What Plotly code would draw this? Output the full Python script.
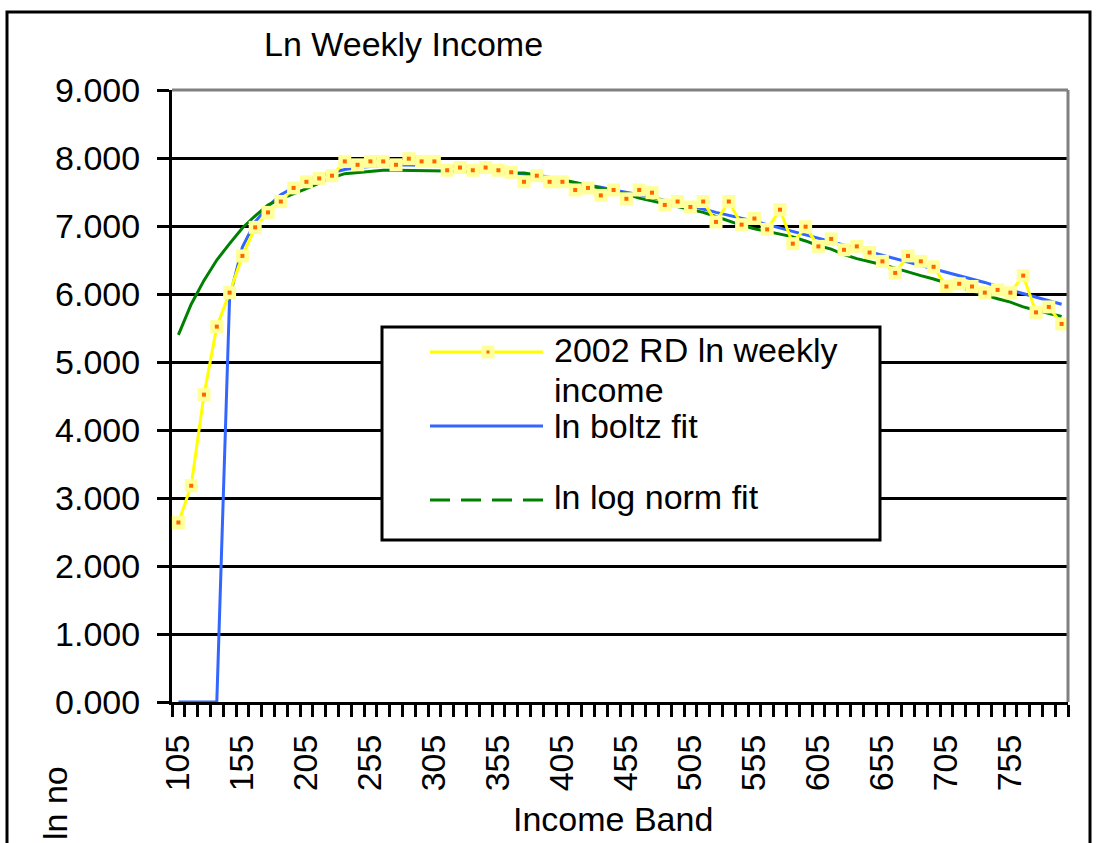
import plotly.graph_objects as go

# ---------------- data ----------------
income_band = [105, 115, 125, 135, 145, 155, 165, 175, 185, 195,
               205, 215, 225, 235, 245, 255, 265, 275, 285, 295,
               305, 315, 325, 335, 345, 355, 365, 375, 385, 395,
               405, 415, 425, 435, 445, 455, 465, 475, 485, 495,
               505, 515, 525, 535, 545, 555, 565, 575, 585, 595,
               605, 615, 625, 635, 645, 655, 665, 675, 685, 695,
               705, 715, 725, 735, 745, 755, 765, 775, 785, 795]

rd_ln_weekly = [2.64, 3.18, 4.52, 5.52, 6.02, 6.56, 6.98, 7.20, 7.36, 7.56,
                7.65, 7.70, 7.74, 7.95, 7.90, 7.95, 7.95, 7.90, 7.99, 7.95,
                7.95, 7.82, 7.86, 7.82, 7.86, 7.82, 7.79, 7.65, 7.74, 7.65,
                7.65, 7.53, 7.56, 7.45, 7.53, 7.40, 7.53, 7.49, 7.31, 7.36,
                7.28, 7.36, 7.06, 7.36, 7.02, 7.11, 6.95, 7.24, 6.74, 6.99,
                6.70, 6.81, 6.65, 6.70, 6.61, 6.48, 6.31, 6.56, 6.48, 6.40,
                6.11, 6.15, 6.11, 6.02, 6.06, 6.02, 6.27, 5.73, 5.81, 5.56]

ln_boltz_fit = [0.00, 0.00, 0.00, 0.00, 5.95, 6.69, 7.06, 7.29, 7.46, 7.57,
                7.67, 7.74, 7.79, 7.83, 7.86, 7.88, 7.89, 7.90, 7.90, 7.90,
                7.89, 7.88, 7.87, 7.85, 7.83, 7.81, 7.79, 7.76, 7.73, 7.70,
                7.67, 7.64, 7.60, 7.57, 7.53, 7.50, 7.46, 7.42, 7.38, 7.33,
                7.29, 7.25, 7.20, 7.16, 7.11, 7.07, 7.02, 6.97, 6.92, 6.88,
                6.83, 6.78, 6.73, 6.68, 6.63, 6.58, 6.53, 6.48, 6.43, 6.38,
                6.32, 6.27, 6.22, 6.17, 6.11, 6.06, 6.00, 5.95, 5.90, 5.85]

ln_lognorm_fit = [5.40, 5.85, 6.20, 6.50, 6.74, 6.97, 7.15, 7.31, 7.40, 7.47,
                  7.55, 7.63, 7.71, 7.77, 7.79, 7.81, 7.82, 7.82, 7.82, 7.82,
                  7.82, 7.81, 7.80, 7.80, 7.79, 7.79, 7.78, 7.78, 7.75, 7.72,
                  7.68, 7.64, 7.60, 7.56, 7.51, 7.47, 7.41, 7.37, 7.32, 7.28,
                  7.24, 7.20, 7.14, 7.07, 7.01, 6.96, 6.92, 6.88, 6.84, 6.78,
                  6.71, 6.66, 6.58, 6.52, 6.48, 6.43, 6.38, 6.32, 6.27, 6.22,
                  6.16, 6.10, 6.04, 5.98, 5.93, 5.88, 5.81, 5.76, 5.71, 5.67]

x_tick_positions = [105, 155, 205, 255, 305, 355, 405, 455, 505, 555, 605, 655, 705, 755]
x_tick_labels = ["105", "155", "205", "255", "305", "355", "405", "455", "505",
                 "555", "605", "655", "705", "755"]
y_tick_values = [0, 1, 2, 3, 4, 5, 6, 7, 8, 9]
y_tick_labels = ["0.000", "1.000", "2.000", "3.000", "4.000", "5.000",
                 "6.000", "7.000", "8.000", "9.000"]

series_names = ["2002 RD ln weekly", "income", "ln boltz fit", "ln log norm fit"]

# ---------------- layout helpers ----------------
W, H = 1098, 843
L, R, T, B = 172, 1068, 90, 702
PW, PH = R - L, B - T


def px(x):
    return (x - L) / PW


def py(y):
    return (B - y) / PH


FONT = "Arial, Liberation Sans, sans-serif"
YELLOW = "#FFFF00"
MARKER_FILL = "#FFFF99"
ORANGE = "#FF6600"
BLUE = "#3366FF"
GREEN = "#008000"

fig = go.Figure()

fig.add_trace(go.Scatter(x=income_band, y=ln_boltz_fit, mode="lines",
                         line=dict(color=BLUE, width=3), name="ln boltz fit"))
fig.add_trace(go.Scatter(x=income_band, y=ln_lognorm_fit, mode="lines",
                         line=dict(color=GREEN, width=3), name="ln log norm fit"))
fig.add_trace(go.Scatter(x=income_band, y=rd_ln_weekly, mode="lines+markers",
                         line=dict(color=YELLOW, width=3),
                         marker=dict(symbol="square", size=13, color=MARKER_FILL,
                                     line=dict(width=0)),
                         cliponaxis=False, name="2002 RD ln weekly income"))
fig.add_trace(go.Scatter(x=income_band, y=rd_ln_weekly, mode="markers",
                         marker=dict(symbol="square", size=4, color=ORANGE,
                                     line=dict(width=0)),
                         cliponaxis=False, hoverinfo="skip"))

fig.update_layout(
    width=W, height=H,
    margin=dict(l=L, r=W - R, t=T, b=H - B, autoexpand=False),
    paper_bgcolor="white", plot_bgcolor="white",
    showlegend=False,
    font=dict(family=FONT, size=34, color="black"),
)

fig.update_xaxes(
    range=[100, 800], tickmode="array", tickvals=x_tick_positions,
    ticktext=x_tick_labels, tickangle=-90, ticks="",
    showgrid=False, zeroline=False, showline=True, linecolor="black",
    linewidth=3, layer="below traces", ticklabelstandoff=16,
    tickfont=dict(family=FONT, size=34, color="black"),
    minor=dict(ticks="outside", ticklen=12, tickwidth=3, tickcolor="black",
               tick0=100, dtick=10, showgrid=False),
)
fig.update_yaxes(
    range=[0, 9], tickmode="array", tickvals=y_tick_values,
    ticktext=y_tick_labels, ticks="outside", ticklen=12, tickwidth=3,
    tickcolor="black", showgrid=True, gridcolor="black", gridwidth=3,
    zeroline=False, showline=True, linecolor="black", linewidth=3,
    layer="below traces", ticklabelstandoff=10,
    tickfont=dict(family=FONT, size=34, color="black"),
)

shapes = []
# plot area grey border (top and right)
shapes.append(dict(type="line", xref="paper", yref="paper", x0=0, x1=1, y0=1, y1=1,
                   line=dict(color="#808080", width=3), layer="above"))
shapes.append(dict(type="line", xref="paper", yref="paper", x0=1, x1=1, y0=0, y1=1,
                   line=dict(color="#808080", width=3), layer="above"))
# chart border
shapes.append(dict(type="rect", xref="paper", yref="paper",
                   x0=px(7), x1=px(1090), y0=py(900), y1=py(12),
                   line=dict(color="black", width=3), fillcolor="rgba(0,0,0,0)",
                   layer="above"))
# legend box
shapes.append(dict(type="rect", xref="paper", yref="paper",
                   x0=px(382), x1=px(880), y0=py(540), y1=py(327),
                   line=dict(color="black", width=3), fillcolor="white",
                   layer="above"))
# legend samples
shapes.append(dict(type="line", xref="paper", yref="paper",
                   x0=px(430), x1=px(543), y0=py(352), y1=py(352),
                   line=dict(color=YELLOW, width=3), layer="above"))
shapes.append(dict(type="rect", xref="paper", yref="paper",
                   x0=px(481.5), x1=px(494.5), y0=py(358.5), y1=py(345.5),
                   line=dict(width=0), fillcolor=MARKER_FILL, layer="above"))
shapes.append(dict(type="rect", xref="paper", yref="paper",
                   x0=px(486.5), x1=px(489.5), y0=py(353.5), y1=py(350.5),
                   line=dict(width=0), fillcolor=ORANGE, layer="above"))
shapes.append(dict(type="line", xref="paper", yref="paper",
                   x0=px(430), x1=px(543), y0=py(426), y1=py(426),
                   line=dict(color=BLUE, width=3), layer="above"))
shapes.append(dict(type="line", xref="paper", yref="paper",
                   x0=px(430), x1=px(543), y0=py(500), y1=py(500),
                   line=dict(color=GREEN, width=3, dash="20px,11px"), layer="above"))
fig.update_layout(shapes=shapes)

ann = []


def text(t, x, y, xanchor="left", angle=0, size=34):
    ann.append(dict(text=t, xref="paper", yref="paper", x=px(x), y=py(y),
                    xanchor=xanchor, yanchor="middle", showarrow=False,
                    textangle=angle, font=dict(family=FONT, size=size, color="black")))


text("Ln Weekly Income", 262, 44)
text("Income Band", 613, 819, xanchor="center")
text("ln no", 55, 803, xanchor="center", angle=-90)
text(series_names[0], 552, 350)
text(series_names[1], 552, 390)
text(series_names[2], 552, 426)
text(series_names[3], 552, 497)
fig.update_layout(annotations=ann)

# remove the page's default body margin so the figure sits at the window's top-left
fig.write_html("out.html", config={"displayModeBar": False},
               post_script="document.body.style.margin='0';")
